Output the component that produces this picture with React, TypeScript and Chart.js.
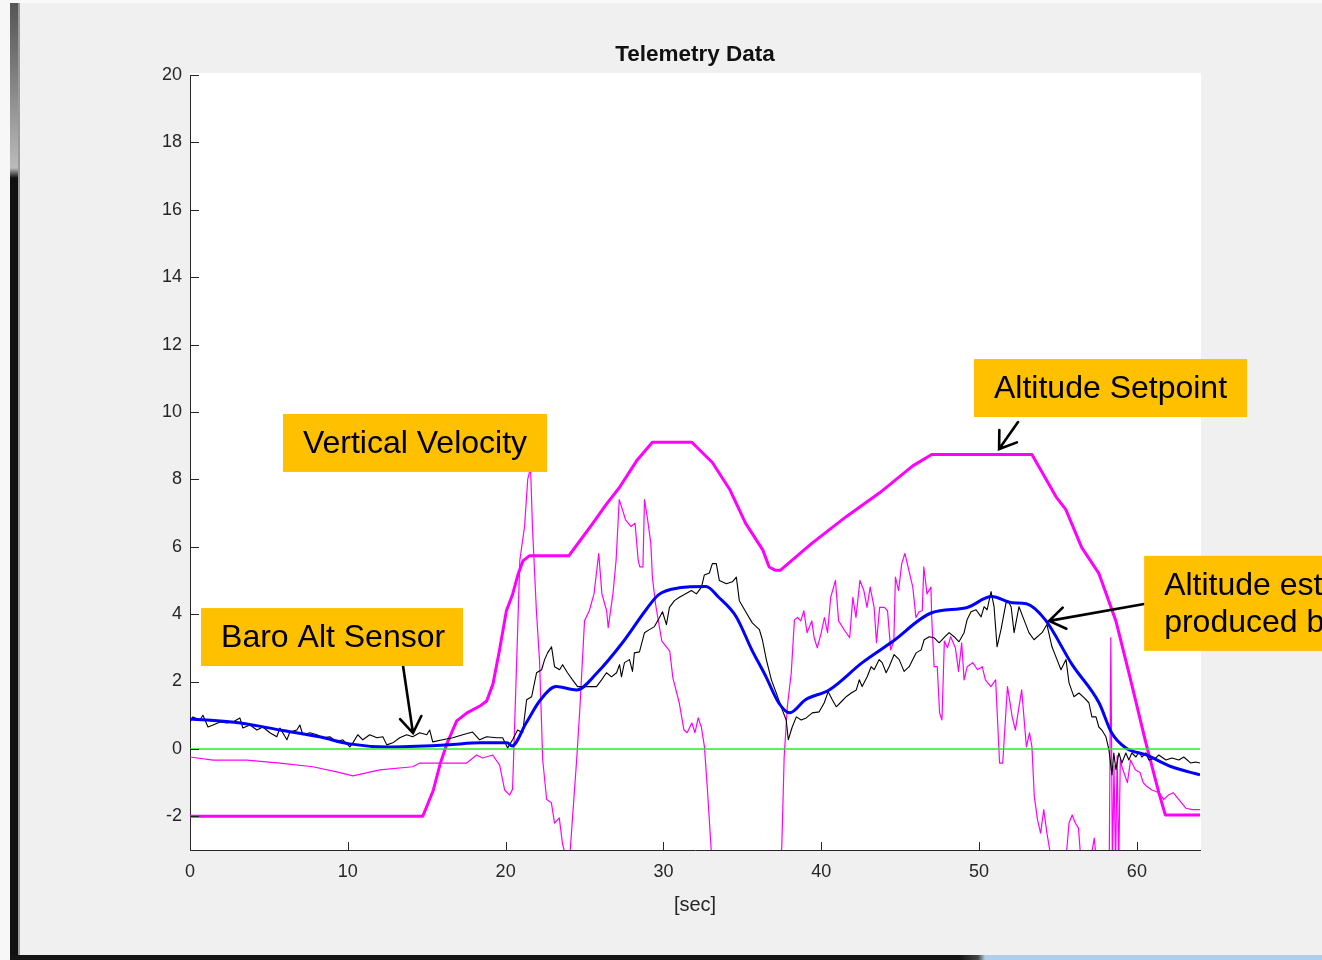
import React, { useEffect, useRef } from "react";
import { Chart, registerables } from "chart.js";

Chart.register(...registerables);

// ---------------- DATA ----------------
// Altitude setpoint (thick magenta)
const setpointT = [0, 14.75, 15.4, 15.85, 16.3, 16.9, 17.55, 18.4, 18.8, 19.2, 19.6, 20.05, 20.45, 20.8, 21.1, 21.5, 24.0, 24.7, 25.5, 26.4, 27.2, 28.3, 29.3, 31.8, 33.1, 34.2, 35.2, 36.3, 36.7, 37.1, 37.4, 39.4, 41.6, 43.7, 45.8, 47.0, 53.35, 54.87, 55.5, 56.5, 57.6, 58.67, 59.5, 60.57, 61.4, 61.8, 64];
const setpointV = [-2, -2, -1.25, -0.45, 0.18, 0.83, 1.07, 1.28, 1.42, 1.93, 2.9, 4.1, 4.6, 5.2, 5.58, 5.73, 5.73, 6.17, 6.68, 7.27, 7.75, 8.55, 9.1, 9.1, 8.5, 7.7, 6.7, 5.9, 5.4, 5.3, 5.3, 6.1, 6.9, 7.6, 8.4, 8.74, 8.74, 7.49, 7.1, 5.98, 5.2, 3.8, 2.25, 0.18, -1.31, -1.96, -1.96];

// Altitude estimate (thick blue)
const estimateT = [0, 3.2, 5.7, 8.2, 10.1, 12.5, 16.3, 18.4, 20.1, 20.4, 21.3, 22.2, 23.2, 24.5, 25.8, 27.4, 28.9, 29.7, 31.0, 32.7, 33.5, 34.6, 35.6, 36.5, 37.3, 38.0, 39.0, 40.5, 42.6, 44.5, 47.0, 49.2, 50.8, 52.1, 53.0, 54.2, 55.9, 57.6, 58.4, 59.3, 60.6, 62.2, 64];
const estimateV = [0.89, 0.77, 0.56, 0.36, 0.15, 0.06, 0.12, 0.18, 0.18, 0.09, 0.77, 1.45, 1.85, 1.75, 2.26, 3.15, 4.13, 4.58, 4.78, 4.82, 4.5, 3.93, 2.94, 2.14, 1.37, 1.07, 1.46, 1.75, 2.56, 3.18, 4.04, 4.19, 4.52, 4.34, 4.31, 3.83, 2.5, 1.37, 0.48, 0.03, -0.18, -0.53, -0.77];

// Baro altitude sensor (thin black)
const baroT = [0, 0.19, 0.63, 0.82, 1.14, 1.46, 1.9, 2.34, 2.72, 3.16, 3.35, 3.8, 4.24, 4.62, 5.06, 5.5, 5.7, 6.14, 6.33, 6.77, 6.96, 7.15, 7.6, 8.04, 8.42, 8.86, 9.3, 9.68, 10.13, 10.32, 10.63, 10.95, 11.39, 11.84, 12.22, 12.47, 12.85, 13.29, 13.73, 14.11, 14.56, 15.0, 15.19, 15.38, 16.01, 16.65, 17.28, 17.91, 18.35, 18.8, 19.43, 19.81, 20.13, 20.44, 20.76, 21.08, 21.33, 21.65, 21.96, 22.28, 22.47, 22.66, 22.91, 23.1, 23.42, 23.61, 23.92, 24.24, 24.56, 25.0, 25.44, 25.76, 26.08, 26.39, 26.71, 27.03, 27.22, 27.34, 27.53, 27.85, 28.04, 28.16, 28.48, 28.8, 29.11, 29.43, 29.75, 29.94, 30.19, 30.38, 30.7, 31.01, 31.33, 31.77, 32.09, 32.41, 32.59, 32.91, 33.1, 33.35, 33.54, 33.99, 34.37, 34.62, 34.81, 35.25, 35.63, 36.08, 36.27, 36.52, 36.84, 37.15, 37.53, 37.78, 37.91, 38.16, 38.42, 38.73, 39.05, 39.43, 39.87, 40.19, 40.44, 40.7, 40.95, 41.27, 41.58, 41.9, 42.22, 42.41, 42.59, 42.91, 43.16, 43.35, 43.67, 43.86, 44.11, 44.3, 44.62, 44.94, 45.25, 45.57, 46.01, 46.33, 46.52, 46.84, 47.15, 47.47, 47.78, 48.1, 48.42, 48.73, 49.05, 49.24, 49.49, 49.81, 50.13, 50.32, 50.51, 50.76, 50.95, 51.14, 51.39, 51.71, 51.9, 52.03, 52.22, 52.53, 52.85, 53.16, 53.48, 53.99, 54.3, 54.62, 54.94, 55.19, 55.51, 55.7, 56.01, 56.33, 56.65, 56.96, 57.15, 57.41, 57.59, 57.78, 58.04, 58.23, 58.42, 58.54, 58.67, 58.86, 59.05, 59.3, 59.49, 59.68, 59.94, 60.13, 60.32, 60.57, 60.76, 61.2, 61.39, 61.84, 62.22, 62.66, 62.97, 63.42, 63.73, 64];
const baroV = [0.8, 0.95, 0.86, 1.0, 0.65, 0.71, 0.8, 0.77, 0.8, 0.92, 0.62, 0.71, 0.56, 0.65, 0.48, 0.36, 0.62, 0.27, 0.5, 0.56, 0.71, 0.42, 0.48, 0.42, 0.33, 0.36, 0.21, 0.27, 0.06, 0.18, 0.42, 0.27, 0.42, 0.33, 0.36, 0.12, 0.18, 0.33, 0.42, 0.36, 0.48, 0.42, 0.56, 0.21, 0.27, 0.33, 0.42, 0.5, 0.27, 0.36, 0.33, 0.33, 0.03, 0.27, 0.56, 0.48, 1.46, 1.55, 2.26, 2.35, 2.65, 2.85, 3.03, 2.44, 2.35, 2.5, 2.26, 2.05, 1.85, 1.85, 1.85, 1.85, 2.05, 2.26, 2.14, 2.26, 2.5, 2.14, 2.56, 2.65, 2.3, 2.85, 2.88, 3.45, 3.54, 3.63, 3.9, 4.07, 3.69, 4.2, 4.4, 4.5, 4.58, 4.7, 4.6, 4.8, 5.16, 5.22, 5.5, 5.5, 5.0, 4.9, 4.96, 5.1, 4.4, 4.04, 3.74, 3.54, 3.24, 2.65, 2.05, 1.66, 1.16, 0.86, 0.27, 0.65, 0.95, 0.86, 0.92, 1.07, 1.1, 1.37, 1.7, 1.46, 1.25, 1.4, 1.55, 1.66, 1.75, 2.05, 1.85, 2.14, 2.44, 2.35, 2.65, 2.56, 2.26, 2.44, 2.8, 2.65, 2.3, 2.44, 2.85, 2.94, 3.24, 3.33, 3.3, 3.15, 3.3, 3.45, 3.33, 3.18, 3.45, 3.83, 4.07, 4.13, 3.92, 4.22, 4.13, 4.67, 4.22, 3.03, 3.54, 4.34, 4.34, 4.22, 3.45, 4.22, 3.83, 3.45, 3.24, 3.45, 3.69, 3.03, 2.65, 2.35, 2.65, 1.96, 1.55, 1.66, 1.52, 1.37, 0.95, 0.95, 0.65, 0.56, 0.36, -0.03, -0.77, -0.12, -0.62, -0.12, -0.42, -0.12, -0.33, -0.12, -0.24, -0.09, -0.24, -0.12, -0.33, -0.27, -0.18, -0.33, -0.27, -0.33, -0.24, -0.42, -0.39, -0.42];

// Vertical velocity (thin magenta)
const velocityT = [0, 1.46, 3.6, 5.7, 7.78, 9.3, 10.32, 12.03, 14.11, 14.56, 17.53, 18.16, 18.54, 19.18, 19.62, 19.94, 20.25, 20.44, 20.7, 20.9, 21.2, 21.4, 21.58, 21.7, 21.95, 22.15, 22.35, 22.6, 22.9, 23.1, 23.4, 23.6, 23.85, 24.05, 24.2, 24.5, 24.7, 25.0, 25.3, 25.6, 25.9, 26.1, 26.4, 26.5, 26.8, 27.0, 27.2, 27.4, 27.6, 27.95, 28.2, 28.4, 28.5, 28.7, 28.8, 29.0, 29.2, 29.3, 29.5, 29.75, 29.9, 30.4, 30.6, 31.0, 31.3, 31.5, 31.8, 32.0, 32.2, 32.4, 32.6, 32.8, 33.0, 33.2, 35.0, 37.3, 37.5, 37.65, 37.85, 38.1, 38.3, 38.5, 38.7, 38.9, 39.1, 39.4, 39.55, 39.75, 40.0, 40.2, 40.4, 40.6, 40.9, 41.1, 41.5, 41.8, 42.0, 42.2, 42.45, 42.7, 42.9, 43.1, 43.35, 43.5, 43.7, 44.0, 44.2, 44.4, 44.6, 44.7, 44.9, 45.1, 45.3, 45.6, 45.8, 46.0, 46.2, 46.4, 46.5, 46.7, 46.95, 47.0, 47.15, 47.35, 47.5, 47.65, 47.8, 48.0, 48.2, 48.5, 48.7, 48.9, 49.05, 49.25, 49.6, 49.9, 50.2, 50.4, 50.75, 51.05, 51.3, 51.5, 51.8, 52.1, 52.3, 52.5, 52.7, 53.0, 53.2, 53.35, 53.5, 53.7, 53.9, 54.1, 54.3, 54.55, 55.0, 55.5, 55.7, 55.9, 56.1, 56.3, 56.45, 56.8, 57.1, 57.3, 57.45, 58.0, 58.25, 58.35, 58.45, 58.55, 58.65, 58.75, 58.85, 58.95, 59.05, 59.4, 59.6, 59.9, 60.2, 60.4, 60.6, 60.95, 61.4, 61.7, 62.0, 62.3, 62.65, 63.1, 63.5, 64];
const velocityV = [-0.24, -0.33, -0.33, -0.42, -0.53, -0.68, -0.8, -0.62, -0.53, -0.42, -0.42, -0.18, -0.27, -0.18, -0.48, -1.22, -1.37, -1.2, 2.6, 5.6, 6.6, 8.0, 8.35, 6.6, 4.1, 2.6, -0.33, -1.5, -1.6, -2.2, -2.05, -2.8, -3.3, -3.3, -2.3, -0.33, 1.16, 3.8, 4.1, 4.6, 5.8, 4.6, 4.1, 3.6, 4.6, 5.6, 7.4, 7.1, 6.8, 6.6, 6.7, 5.6, 5.4, 5.4, 7.4, 6.8, 6.1, 5.1, 4.3, 3.6, 3.2, 2.9, 2.1, 1.37, 0.56, 0.48, 0.77, 0.48, 0.92, 0.65, 0.06, -1.3, -2.8, -4.5, -6, -4.5, -2.9, -0.24, 1.25, 2.26, 3.83, 3.9, 3.8, 4.1, 3.45, 3.8, 3.3, 3.0, 3.45, 3.9, 3.45, 4.5, 5.0, 3.8, 3.5, 3.3, 4.5, 3.9, 5.0, 4.7, 4.2, 4.8, 4.2, 3.15, 4.2, 4.2, 4.1, 2.94, 3.2, 5.1, 4.7, 5.5, 5.8, 5.2, 4.8, 3.9, 4.07, 4.1, 5.4, 4.6, 4.8, 3.9, 2.44, 2.44, 1.07, 0.86, 3.2, 3.0, 3.33, 3.0, 2.3, 3.15, 2.05, 2.44, 2.56, 2.35, 2.44, 2.05, 1.85, 2.05, -0.42, -0.42, 1.85, 0.95, 0.56, 1.16, 1.75, 0.06, 0.48, 0.06, -1.4, -2.1, -2.5, -1.8, -2.5, -3.2, -4.5, -3.3, -2.2, -1.96, -2.2, -2.35, -3.3, -4, -3.2, -2.65, -3.4, -4, -3.3, 3.3, -3.5, -0.5, -3.5, -0.2, -3.5, -0.3, -0.53, -1.0, -0.33, -0.62, -0.7, -1.0, -1.1, -1.22, -1.3, -1.5, -1.37, -1.3, -1.5, -1.76, -1.8, -1.8];

// Zero reference line (green)
const zeroT = [0, 64];
const zeroV = [0, 0];

// Axis settings
const X_MIN = 0;
const X_MAX = 64;
const Y_MIN = -3;
const Y_MAX = 20;
const xTickValues = [0, 10, 20, 30, 40, 50, 60];
const yTickValues = [-2, 0, 2, 4, 6, 8, 10, 12, 14, 16, 18, 20];
const TITLE = "Telemetry Data";

// Callouts (positions in data units)
const callouts = [
  { lines: ["Vertical Velocity"], x0: 5.89, x1: 22.62, y0: 9.94, y1: 8.22 },
  { lines: ["Altitude Setpoint"], x0: 49.68, x1: 66.98, y0: 11.57, y1: 9.85 },
  { lines: ["Baro Alt Sensor"], x0: 0.7, x1: 17.3, y0: 4.18, y1: 2.46 },
  { lines: ["Altitude est", "produced b"], x0: 60.46, x1: 72, y0: 5.73, y1: 2.91 },
];
const arrows = [
  { fx: 13.5, fy: 2.46, tx: 14.13, ty: 0.47 },
  { fx: 52.47, fy: 9.7, tx: 51.27, ty: 8.9 },
  { fx: 60.46, fy: 4.3, tx: 54.44, ty: 3.8 },
];

const AXIS_COLOR = "#262626";
const FONT = '"Liberation Sans", Arial, Helvetica, sans-serif';

function pts(t: number[], v: number[]) {
  return t.map((x, i) => ({ x, y: v[i] }));
}

const decorPlugin = {
  id: "decor",
  beforeDraw(chart: any) {
    const { ctx, chartArea: a } = chart;
    ctx.save();
    ctx.fillStyle = "#ffffff";
    ctx.fillRect(a.left, a.top - 2, a.right - a.left + 1, a.bottom - a.top + 2);
    // title centred over the plot area
    ctx.fillStyle = "#111111";
    ctx.font = `bold 22.5px ${FONT}`;
    ctx.textAlign = "center";
    ctx.textBaseline = "middle";
    ctx.fillText(TITLE, (a.left + a.right) / 2, 55);
    ctx.restore();
  },
  afterDatasetsDraw(chart: any) {
    const { ctx, chartArea: a, scales } = chart;
    const xs = scales.x;
    const ys = scales.y;
    ctx.save();
    ctx.strokeStyle = AXIS_COLOR;
    ctx.lineWidth = 1;
    ctx.beginPath();
    ys.ticks.forEach((t: any) => {
      const py = Math.round(ys.getPixelForValue(t.value)) + 0.5;
      ctx.moveTo(a.left, py);
      ctx.lineTo(a.left + 9, py);
    });
    xs.ticks.forEach((t: any) => {
      const px = Math.round(xs.getPixelForValue(t.value)) + 0.5;
      ctx.moveTo(px, a.bottom);
      ctx.lineTo(px, a.bottom - 8);
    });
    ctx.stroke();
    ctx.restore();
  },
  afterDraw(chart: any) {
    const { ctx, scales } = chart;
    const xs = scales.x;
    const ys = scales.y;
    ctx.save();
    ctx.strokeStyle = "#000";
    ctx.lineWidth = 2.6;
    ctx.lineCap = "round";
    arrows.forEach((ar) => {
      const x1 = xs.getPixelForValue(ar.fx);
      const y1 = ys.getPixelForValue(ar.fy);
      const x2 = xs.getPixelForValue(ar.tx);
      const y2 = ys.getPixelForValue(ar.ty);
      const ang = Math.atan2(y2 - y1, x2 - x1);
      const L = 19;
      const spread = 0.6;
      ctx.beginPath();
      ctx.moveTo(x1, y1);
      ctx.lineTo(x2, y2);
      ctx.moveTo(x2 - L * Math.cos(ang - spread), y2 - L * Math.sin(ang - spread));
      ctx.lineTo(x2, y2);
      ctx.lineTo(x2 - L * Math.cos(ang + spread), y2 - L * Math.sin(ang + spread));
      ctx.stroke();
    });
    callouts.forEach((c) => {
      const left = xs.getPixelForValue(c.x0);
      const right = xs.getPixelForValue(c.x1);
      const top = ys.getPixelForValue(c.y0);
      const bottom = ys.getPixelForValue(c.y1);
      ctx.fillStyle = "#ffc000";
      ctx.fillRect(left, top, right - left, bottom - top);
      ctx.fillStyle = "#000";
      ctx.font = `32px ${FONT}`;
      ctx.textBaseline = "middle";
      ctx.textAlign = "left";
      const mid = (top + bottom) / 2;
      const lh = 37;
      const n = c.lines.length;
      c.lines.forEach((ln, i) => {
        const y = mid + (i - (n - 1) / 2) * lh + 1;
        ctx.fillText(ln, left + 20, y);
      });
    });
    ctx.restore();
  },
};

export default function App() {
  const ref = useRef<HTMLCanvasElement | null>(null);

  useEffect(() => {
    document.body.style.margin = "0";
    if (!ref.current) return;
    const chart = new Chart(ref.current, {
      type: "line",
      data: {
        datasets: [
          {
            label: "Zero",
            data: pts(zeroT, zeroV),
            borderColor: "#22f022",
            borderWidth: 1.5,
            pointRadius: 0,
            order: 0,
          },
          {
            label: "Altitude estimate",
            data: pts(estimateT, estimateV),
            borderColor: "#0000ff",
            borderWidth: 3,
            pointRadius: 0,
            borderJoinStyle: "round",
            cubicInterpolationMode: "monotone",
            order: 1,
          },
          {
            label: "Baro Alt Sensor",
            data: pts(baroT, baroV),
            borderColor: "#000000",
            borderWidth: 1.1,
            pointRadius: 0,
            borderJoinStyle: "round",
            order: 2,
          },
          {
            label: "Altitude Setpoint",
            data: pts(setpointT, setpointV),
            borderColor: "#ff00ff",
            borderWidth: 3,
            pointRadius: 0,
            borderJoinStyle: "round",
            order: 3,
          },
          {
            label: "Vertical Velocity",
            data: pts(velocityT, velocityV),
            borderColor: "#ff00ff",
            borderWidth: 1.2,
            pointRadius: 0,
            borderJoinStyle: "round",
            order: 4,
          },
        ],
      },
      options: {
        animation: false,
        responsive: false,
        devicePixelRatio: 1,
        events: [],
        layout: { padding: { left: 0, top: 75, right: 122, bottom: 30 } },
        plugins: {
          legend: { display: false },
          tooltip: { enabled: false },
          title: { display: false },
        },
        scales: {
          x: {
            type: "linear",
            min: X_MIN,
            max: X_MAX,
            afterFit: (s: any) => {
              s.height = 80;
            },
            afterBuildTicks: (s: any) => {
              s.ticks = xTickValues.map((value) => ({ value }));
            },
            ticks: {
              color: AXIS_COLOR,
              font: { family: FONT, size: 18 },
              padding: 11,
              maxRotation: 0,
            },
            grid: { display: true, drawOnChartArea: false, drawTicks: false },
            border: { display: true, color: AXIS_COLOR, width: 1 },
            title: {
              display: true,
              text: "[sec]",
              color: AXIS_COLOR,
              font: { family: FONT, size: 20 },
              padding: { top: 0, bottom: 13 },
            },
          },
          y: {
            type: "linear",
            min: Y_MIN,
            max: Y_MAX,
            afterFit: (s: any) => {
              s.width = 190;
            },
            afterBuildTicks: (s: any) => {
              s.ticks = yTickValues.map((value) => ({ value }));
            },
            ticks: {
              color: AXIS_COLOR,
              font: { family: FONT, size: 18 },
              padding: 8,
            },
            grid: { display: true, drawOnChartArea: false, drawTicks: false },
            border: { display: true, color: AXIS_COLOR, width: 1 },
          },
        },
      },
      plugins: [decorPlugin],
    } as any);
    return () => chart.destroy();
  }, []);

  return (
    <div
      style={{
        position: "fixed",
        left: 0,
        top: 0,
        width: 1322,
        height: 960,
        background: "#f0f0f0",
        overflow: "hidden",
      }}
    >
      <div style={{ position: "absolute", left: 0, top: 0, width: 1322, height: 3, background: "#f9f9f9" }} />
      <div style={{ position: "absolute", left: 0, top: 0, width: 10, height: 960, background: "#f7f7f7" }} />
      <div
        style={{
          position: "absolute",
          left: 10,
          top: 3,
          width: 8,
          height: 957,
          background: "linear-gradient(to bottom, #555 0px, #777 60px, #bbb 165px, #111 175px, #111 100%)",
        }}
      />
      <div style={{ position: "absolute", left: 18, top: 3, width: 2, height: 957, background: "#9a9a9a" }} />
      <div
        style={{
          position: "absolute",
          left: 10,
          top: 955,
          width: 1312,
          height: 5,
          background: "linear-gradient(to right, #151515 0px, #151515 950px, #444 968px, #b0cde9 975px, #b0cde9 100%)",
        }}
      />
      <canvas ref={ref} width={1322} height={960} style={{ position: "absolute", left: 0, top: 0, width: 1322, height: 960 }} />
    </div>
  );
}
